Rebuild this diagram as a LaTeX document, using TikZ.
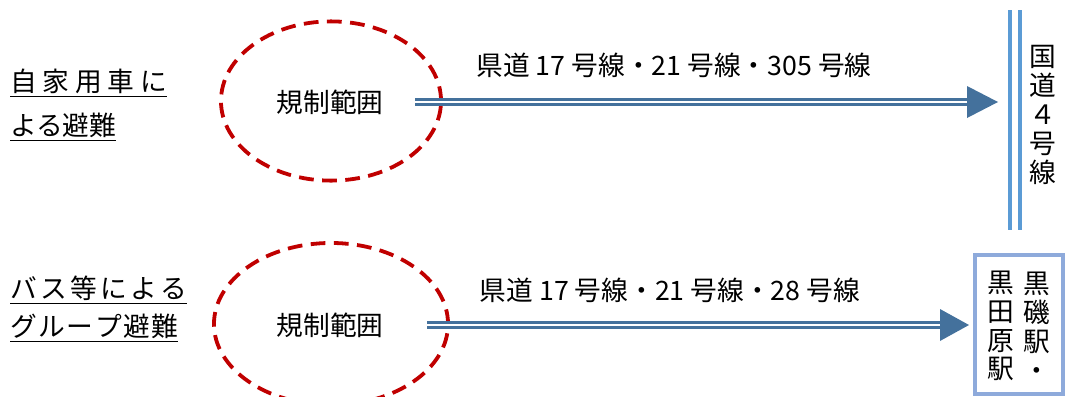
\documentclass[tikz,border=0pt]{standalone}
\usepackage{fontspec}
\setmainfont{Noto Sans CJK JP}
\usetikzlibrary{shapes.geometric,positioning,calc}

\definecolor{zoneRed}{HTML}{C00000}
\definecolor{roadBlue}{HTML}{44719C}
\definecolor{lineBlue}{HTML}{5B9BD5}
\definecolor{boxBlue}{HTML}{8EAADB}

\tikzset{
  zone/.style={ellipse, draw=zoneRed, line width=2.7pt, dash pattern=on 10.5pt off 6pt},
  route/.style={draw=roadBlue, double, double distance=2.1pt, line width=2.1pt},
  txt/.style={font=\fontsize{19}{21}\selectfont, inner sep=0pt},
  vtxt/.style={font=\fontsize{19}{20.5}\selectfont, inner sep=0pt, align=center},
}

\begin{document}
\begin{tikzpicture}[x=0.025cm, y=-0.025cm]
    \useasboundingbox (0,0) rectangle (1065,396);

    % Evacuation type labels
    \node[txt, anchor=west] (car1) at (10,83) {\underline{\makebox[3.92cm][s]{自\hfil 家\hfil 用\hfil 車\hfil に}}};
    \node[txt, anchor=west] (car2) at (10,127) {\underline{よる避難}};
    \node[txt, anchor=west] (bus1) at (10,290) {\underline{\makebox[4.42cm][s]{バ\hfil ス\hfil 等\hfil に\hfil よ\hfil る}}};
    \node[txt, anchor=west] (bus2) at (10,328) {\underline{\makebox[4.2cm][s]{グ\hfil ル\hfil ー\hfil プ\hfil 避\hfil 難}}};

    % Restricted zones
    \node[zone, minimum width=5.5cm, minimum height=3.98cm] (zone1) at (331,101) {};
    \node[txt] (area1) at (330,102) {規制範囲};
    \node[zone, minimum width=5.85cm, minimum height=4.05cm] (zone2) at (331,324) {};
    \node[txt] (area2) at (330,325) {規制範囲};

    % Routes
    \coordinate (start1) at (415,102);
    \coordinate (base1) at (967,102);
    \coordinate (tip1) at (998,102);
    \draw[route] (start1) -- (base1);
    \fill[roadBlue] (tip1) -- ($(base1)+(0,-16)$) -- ($(base1)+(0,16)$) -- cycle;
    \node[txt] (road1) at (674,65) {県道 17 号線・21 号線・305 号線};

    \coordinate (start2) at (427,325);
    \coordinate (base2) at (940,325);
    \coordinate (tip2) at (969,325);
    \draw[route] (start2) -- (base2);
    \fill[roadBlue] (tip2) -- ($(base2)+(0,-16)$) -- ($(base2)+(0,16)$) -- cycle;
    \node[txt] (road2) at (670,290) {県道 17 号線・21 号線・28 号線};

    % National route 4
    \draw[lineBlue, line width=2.9pt] (1010,10) -- (1010,230);
    \draw[lineBlue, line width=2.9pt] (1020,10) -- (1020,230);
    \node[vtxt] (kokudo) at (1043,115) {国\\道\\４\\号\\線};

    % Stations box
    \draw[boxBlue, line width=2.9pt] (975,255) rectangle (1063,394);
    \node[vtxt] (kuroiso) at (1037,326) {黒\\磯\\駅\\・};
    \node[vtxt] (kurodahara) at (1001,326) {黒\\田\\原\\駅};
\end{tikzpicture}
\end{document}
